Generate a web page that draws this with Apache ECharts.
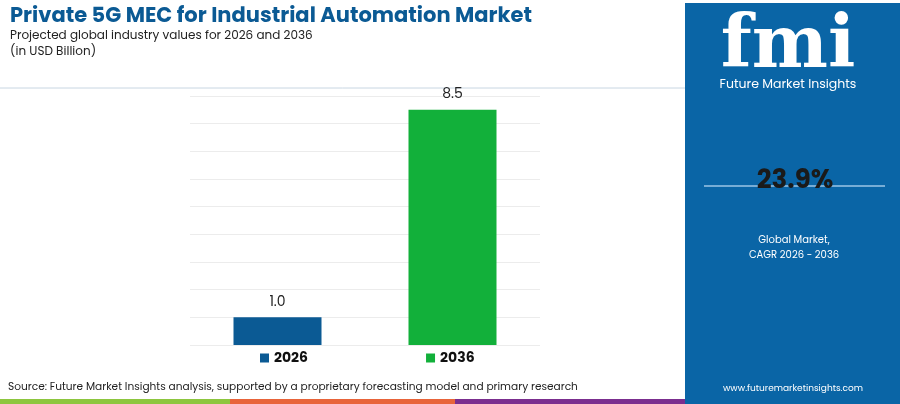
<!DOCTYPE html>
<html>
<head>
<meta charset="utf-8">
<script src="https://cdn.jsdelivr.net/npm/echarts@6/dist/echarts.min.js"></script>
<style>html,body{margin:0;padding:0;background:#fff}#main{width:900px;height:404px}</style>
</head>
<body>
<div id="main"></div>
<script>
var years = ['2026', '2036']
var values = [1.0, 8.5]
var barColors = ['#0b5a94', '#12b03a']
var cagr = '23.9%'

var chart = echarts.init(document.getElementById('main'))
var font = 'Poppins, "Open Sans", Roboto, sans-serif'

var option = {
  animation: false,
  textStyle: { fontFamily: font },
  grid: { left: 190, right: 360, top: 96, bottom: 59 },
  legend: {
    data: years,
    bottom: 34,
    left: 255,
    itemGap: 118,
    itemWidth: 9,
    itemHeight: 9,
    icon: 'rect',
    textStyle: { fontSize: 14, fontWeight: 'bold', color: '#111', fontFamily: font }
  },
  xAxis: {
    type: 'category',
    data: years,
    axisLine: { show: false },
    axisTick: { show: false },
    axisLabel: { show: false }
  },
  yAxis: {
    type: 'value',
    min: 0,
    max: 9,
    interval: 1,
    axisLabel: { show: false },
    splitLine: { lineStyle: { color: '#ececec' } }
  },
  series: years.map(function (y, i) {
    return {
      name: y,
      type: 'bar',
      stack: 'a',
      barWidth: 88,
      itemStyle: { color: barColors[i] },
      label: { show: true, position: 'top', fontSize: 14, color: '#222', distance: 8, formatter: function (p) { return p.value.toFixed(1) } },
      data: years.map(function (_, j) { return j === i ? values[i] : '-' })
    }
  }),
  graphic: [
    { type: 'text', left: 10, top: 6, style: { text: 'Private 5G MEC for Industrial Automation Market', fontSize: 21, fontWeight: 'bold', fill: '#0b5a94', fontFamily: font } },
    { type: 'text', left: 10, top: 30, style: { text: 'Projected global industry values for 2026 and 2036', fontSize: 12, fill: '#222', fontFamily: font } },
    { type: 'text', left: 10, top: 46, style: { text: '(in USD Billion)', fontSize: 12, fill: '#222', fontFamily: font } },
    { type: 'line', shape: { x1: 0, y1: 88, x2: 685, y2: 88 }, style: { stroke: '#c8d6e2', lineWidth: 1 } },
    { type: 'text', left: 8, top: 382, style: { text: 'Source: Future Market Insights analysis, supported by a proprietary forecasting model and primary research', fontSize: 10.6, fill: '#222', fontFamily: font } },
    { type: 'rect', shape: { x: 0, y: 399, width: 230, height: 5 }, style: { fill: '#8dc63f' } },
    { type: 'rect', shape: { x: 230, y: 399, width: 225, height: 5 }, style: { fill: '#e8643a' } },
    { type: 'rect', shape: { x: 455, y: 399, width: 230, height: 5 }, style: { fill: '#7b2e8f' } },
    { type: 'rect', shape: { x: 685, y: 3, width: 215, height: 401 }, style: { fill: '#0a65a6' } },
    { type: 'text', x: 788, y: 12, style: { text: 'fmi', fontSize: 72, fontWeight: 'bold', fill: '#ffffff', align: 'center', fontFamily: 'Georgia, "DejaVu Serif", serif' } },
    { type: 'text', x: 788, y: 78, style: { text: 'Future Market Insights', fontSize: 12.5, fill: '#ffffff', align: 'center', fontFamily: font } },
    { type: 'line', shape: { x1: 704, y1: 186, x2: 885, y2: 186 }, style: { stroke: '#9cc6e6', lineWidth: 1.5 } },
    { type: 'text', x: 795, y: 168, style: { text: cagr, fontSize: 26, fontWeight: 'bold', fill: '#1a1a1a', align: 'center', fontFamily: font } },
    { type: 'text', x: 794, y: 233, style: { text: 'Global Market,\nCAGR 2026 - 2036', fontSize: 10, lineHeight: 15, fill: '#ffffff', align: 'center', fontFamily: font } },
    { type: 'text', x: 793, y: 384, style: { text: 'www.futuremarketinsights.com', fontSize: 9, fill: '#ffffff', align: 'center', fontFamily: font } }
  ]
}
chart.setOption(option)
</script>
</body>
</html>
